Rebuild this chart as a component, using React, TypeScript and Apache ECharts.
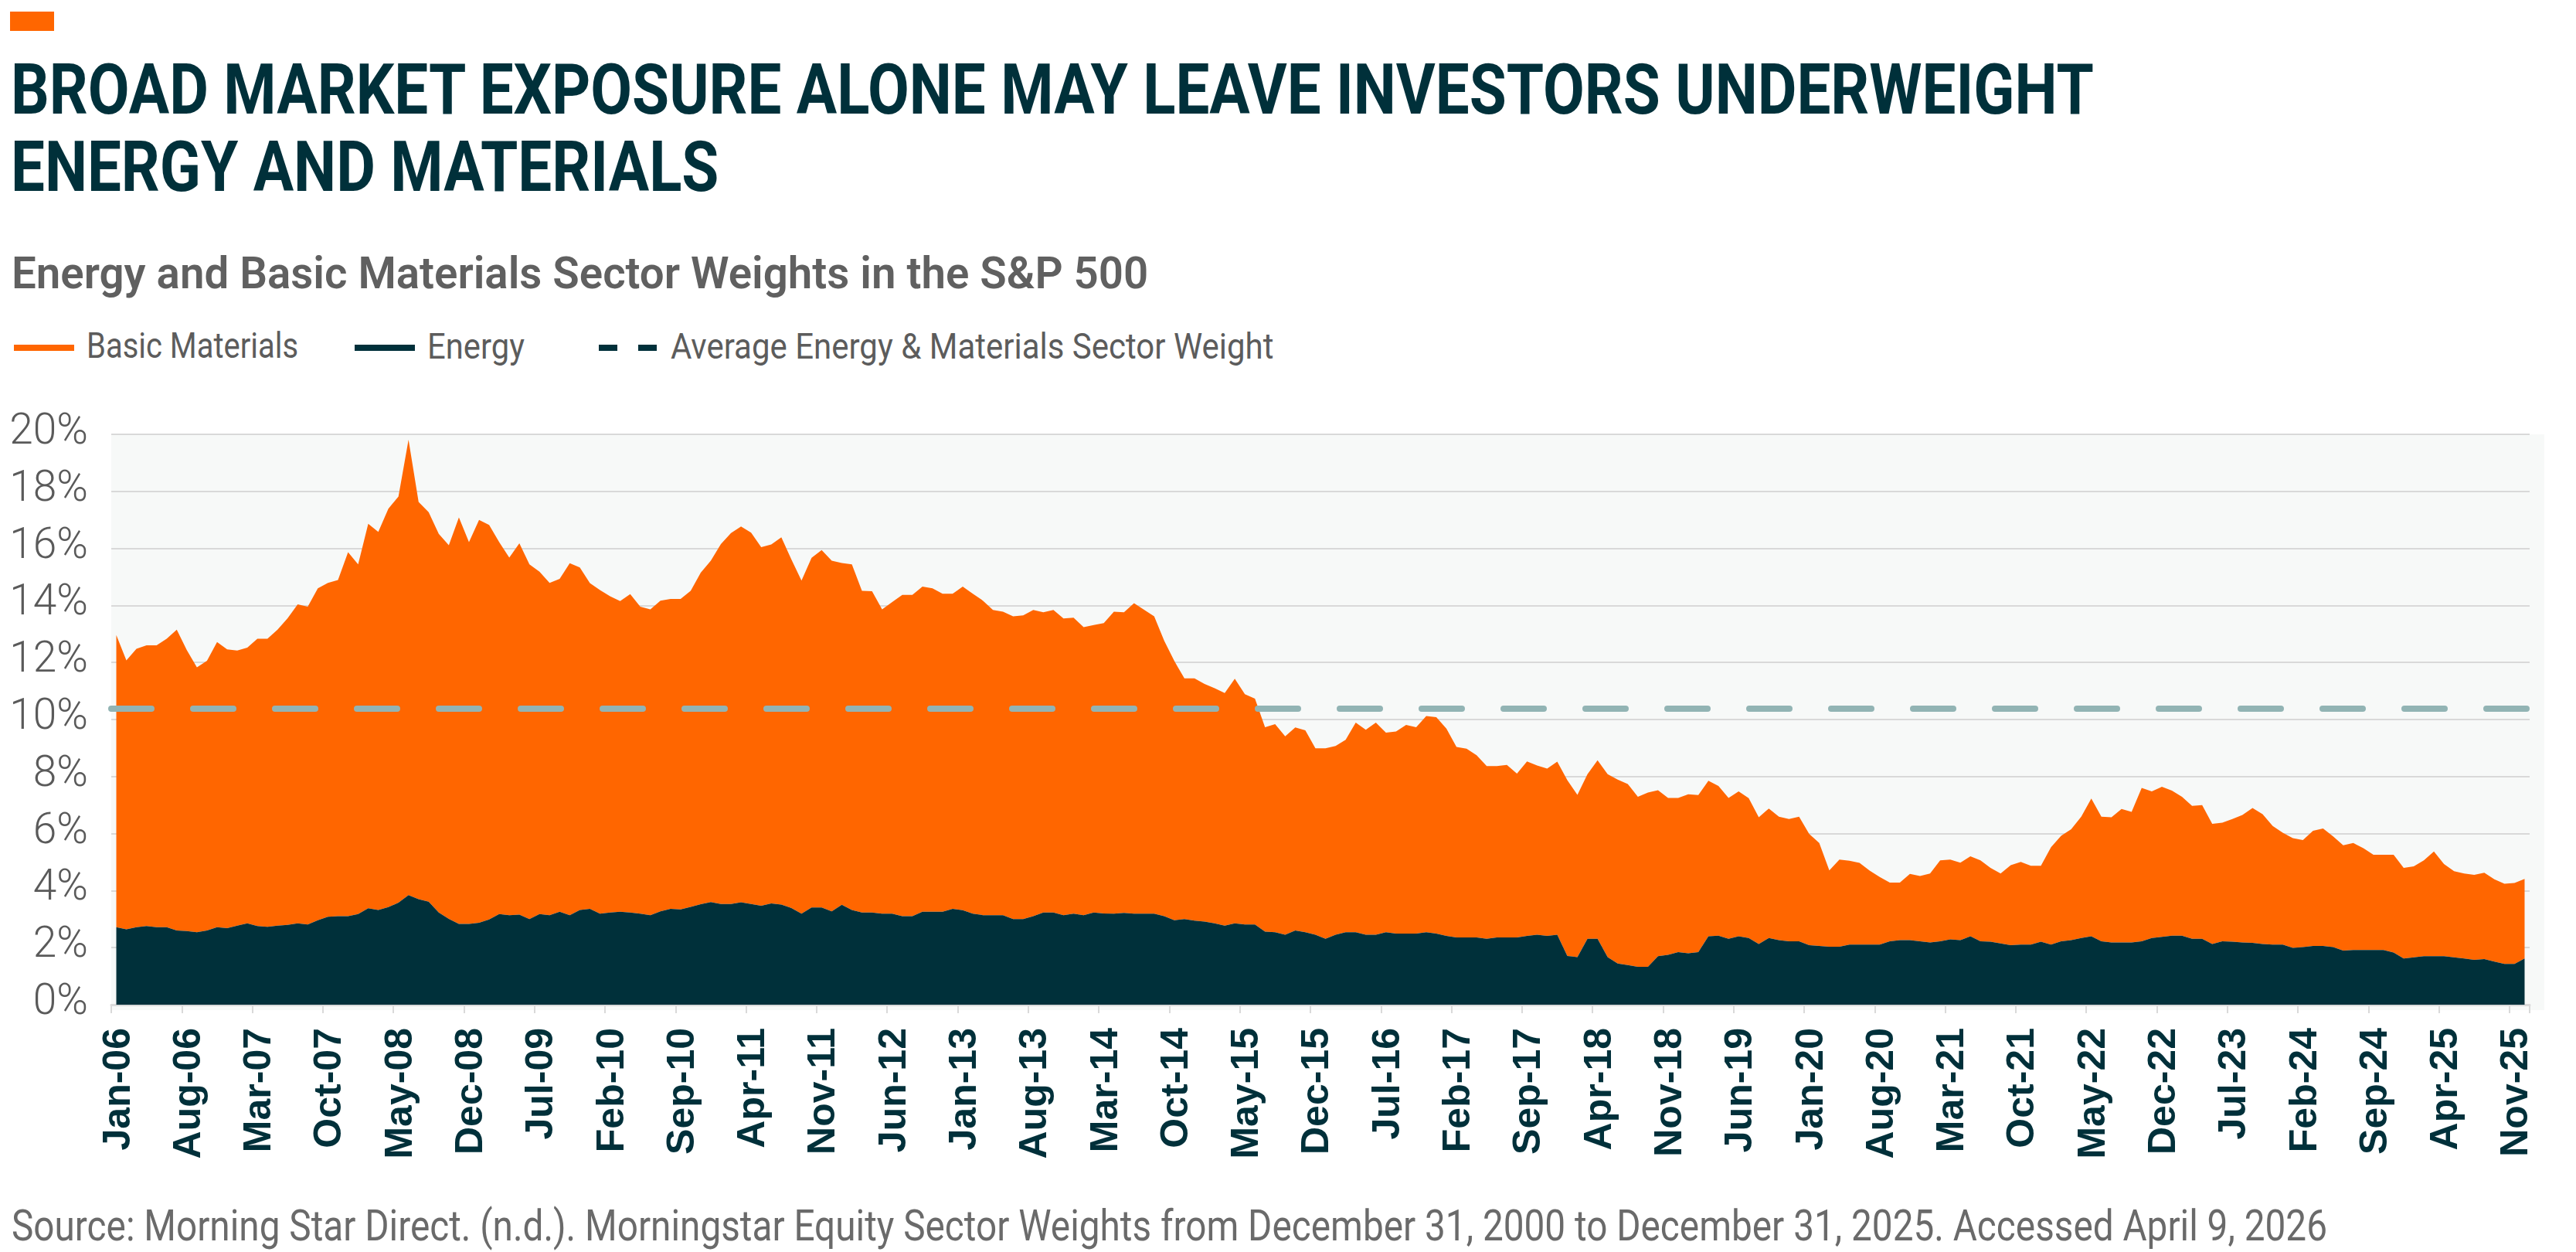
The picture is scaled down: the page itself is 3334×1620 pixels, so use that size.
import React, { useEffect, useRef } from "react";
import * as echarts from "echarts";

// Month axis: Jan-06 .. Dec-25
const MONTHS = ["Jan", "Feb", "Mar", "Apr", "May", "Jun", "Jul", "Aug", "Sep", "Oct", "Nov", "Dec"];
const YEARS = ["06", "07", "08", "09", "10", "11", "12", "13", "14", "15", "16", "17", "18", "19", "20", "21", "22", "23", "24", "25"];
const categories: string[] = [];
YEARS.forEach((y) => MONTHS.forEach((m) => categories.push(`${m}-${y}`)));

// Sector weights in the S&P 500 (%), one row per year
const energy = [
  2.72, 2.64, 2.72, 2.76, 2.72, 2.72, 2.60, 2.58, 2.54, 2.60, 2.72, 2.68,
  2.77, 2.85, 2.76, 2.73, 2.77, 2.80, 2.85, 2.81, 2.96, 3.08, 3.10, 3.10,
  3.18, 3.38, 3.32, 3.42, 3.58, 3.84, 3.70, 3.61, 3.23, 3.01, 2.83, 2.83,
  2.87, 2.99, 3.18, 3.14, 3.16, 3.00, 3.18, 3.14, 3.26, 3.14, 3.32, 3.36,
  3.19, 3.23, 3.26, 3.23, 3.19, 3.14, 3.27, 3.36, 3.34, 3.43, 3.52, 3.60,
  3.53, 3.53, 3.59, 3.53, 3.47, 3.55, 3.51, 3.39, 3.19, 3.41, 3.41, 3.27,
  3.50, 3.32, 3.23, 3.23, 3.19, 3.19, 3.10, 3.10, 3.26, 3.26, 3.26, 3.36,
  3.31, 3.19, 3.14, 3.14, 3.14, 3.00, 3.00, 3.10, 3.23, 3.23, 3.14, 3.19,
  3.14, 3.23, 3.20, 3.19, 3.22, 3.19, 3.19, 3.19, 3.10, 2.96, 3.00, 2.95,
  2.91, 2.85, 2.77, 2.85, 2.81, 2.81, 2.56, 2.54, 2.45, 2.60, 2.54, 2.45,
  2.31, 2.45, 2.54, 2.54, 2.45, 2.45, 2.54, 2.49, 2.49, 2.49, 2.54, 2.49,
  2.41, 2.36, 2.36, 2.36, 2.31, 2.36, 2.36, 2.36, 2.41, 2.45, 2.41, 2.45,
  1.71, 1.67, 2.31, 2.31, 1.67, 1.44, 1.39, 1.33, 1.33, 1.70, 1.75, 1.84,
  1.80, 1.84, 2.40, 2.42, 2.31, 2.40, 2.34, 2.13, 2.34, 2.26, 2.22, 2.22,
  2.09, 2.06, 2.03, 2.03, 2.11, 2.11, 2.11, 2.11, 2.22, 2.26, 2.26, 2.22,
  2.18, 2.22, 2.29, 2.26, 2.40, 2.22, 2.21, 2.15, 2.09, 2.11, 2.11, 2.21,
  2.11, 2.22, 2.26, 2.34, 2.40, 2.22, 2.18, 2.18, 2.18, 2.22, 2.34, 2.38,
  2.42, 2.42, 2.31, 2.31, 2.13, 2.22, 2.21, 2.18, 2.17, 2.13, 2.11, 2.11,
  1.99, 2.02, 2.06, 2.06, 2.02, 1.90, 1.92, 1.92, 1.92, 1.92, 1.83, 1.62,
  1.66, 1.70, 1.70, 1.70, 1.66, 1.62, 1.57, 1.60, 1.51, 1.43, 1.43, 1.62,
];

const basicMaterials = [
  10.24, 9.43, 9.76, 9.84, 9.88, 10.11, 10.55, 9.85, 9.29, 9.46, 10.00, 9.78,
  9.65, 9.67, 10.07, 10.10, 10.38, 10.75, 11.19, 11.15, 11.64, 11.71, 11.79, 12.77,
  12.26, 13.48, 13.26, 13.97, 14.24, 15.97, 13.93, 13.66, 13.28, 13.10, 14.26, 13.39,
  14.13, 13.83, 13.04, 12.54, 13.02, 12.44, 12.00, 11.65, 11.67, 12.34, 12.01, 11.42,
  11.35, 11.09, 10.89, 11.17, 10.77, 10.72, 10.90, 10.87, 10.89, 11.08, 11.63, 11.97,
  12.62, 13.01, 13.18, 13.02, 12.57, 12.59, 12.88, 12.22, 11.68, 12.26, 12.53, 12.30,
  11.99, 12.12, 11.28, 11.27, 10.67, 10.93, 11.27, 11.27, 11.40, 11.34, 11.15, 11.05,
  11.35, 11.22, 11.03, 10.70, 10.64, 10.62, 10.65, 10.74, 10.53, 10.61, 10.40, 10.38,
  10.10, 10.08, 10.18, 10.59, 10.54, 10.89, 10.66, 10.43, 9.66, 9.09, 8.44, 8.49,
  8.34, 8.25, 8.16, 8.58, 8.08, 7.92, 7.17, 7.30, 6.96, 7.12, 7.08, 6.54,
  6.68, 6.62, 6.75, 7.35, 7.19, 7.44, 7.00, 7.09, 7.32, 7.24, 7.58, 7.59,
  7.27, 6.68, 6.62, 6.39, 6.06, 6.01, 6.05, 5.74, 6.12, 5.94, 5.87, 6.07,
  6.16, 5.69, 5.77, 6.26, 6.41, 6.45, 6.35, 5.96, 6.11, 5.82, 5.50, 5.41,
  5.58, 5.51, 5.45, 5.25, 4.94, 5.08, 4.90, 4.44, 4.54, 4.33, 4.29, 4.37,
  3.90, 3.61, 2.68, 3.06, 2.94, 2.86, 2.59, 2.37, 2.06, 2.02, 2.33, 2.29,
  2.42, 2.84, 2.80, 2.72, 2.80, 2.84, 2.59, 2.45, 2.80, 2.90, 2.76, 2.66,
  3.41, 3.70, 3.89, 4.25, 4.83, 4.37, 4.39, 4.68, 4.58, 5.38, 5.14, 5.26,
  5.09, 4.87, 4.66, 4.69, 4.21, 4.16, 4.30, 4.47, 4.73, 4.55, 4.16, 3.92,
  3.85, 3.75, 4.04, 4.12, 3.88, 3.69, 3.75, 3.57, 3.34, 3.34, 3.43, 3.18,
  3.19, 3.36, 3.67, 3.23, 3.02, 2.98, 2.98, 3.03, 2.89, 2.81, 2.84, 2.79,
];

// Average combined Energy & Materials weight (%)
const averageWeight = 10.39;

const TITLE_LINES = [
  "BROAD MARKET EXPOSURE ALONE MAY LEAVE INVESTORS UNDERWEIGHT",
  "ENERGY AND MATERIALS",
];
const SUBTITLE = "Energy and Basic Materials Sector Weights in the S&P 500";
const LEGEND_ITEMS = ["Basic Materials", "Energy", "Average Energy & Materials Sector Weight"];
const SOURCE =
  "Source: Morning Star Direct. (n.d.). Morningstar Equity Sector Weights from December 31, 2000 to December 31, 2025. Accessed April 9, 2026";

const ORANGE = "#ff6600";
const TEAL = "#00303a";
const DASH = "#92b4b4";
const GREY_TEXT = "#5c5c5c";

function textWidth(text: string, font: string): number {
  const ctx = document.createElement("canvas").getContext("2d");
  if (!ctx) return text.length * 20;
  ctx.font = font;
  return ctx.measureText(text).width;
}

export default function App() {
  const ref = useRef<HTMLDivElement>(null);

  useEffect(() => {
    if (!ref.current) return;
    const chart = echarts.init(ref.current, undefined, { renderer: "svg" });

    // condensed look: natural Roboto widths squeezed to the target line lengths
    const titleFont = "700 90px Roboto";
    const titleScale = 2697 / textWidth(TITLE_LINES[0], titleFont);
    const subFont = "600 57px Roboto";
    const subScale = 1472 / textWidth(SUBTITLE, subFont);
    const legendFont = "400 46px Roboto";
    const legendScales = [274, 126, 781].map((w, i) => w / textWidth(LEGEND_ITEMS[i], legendFont));
    const sourceFont = "400 55px Roboto";
    const sourceScale = 2998 / textWidth(SOURCE, sourceFont);

    const txt = (text: string, x: number, y: number, font: string, fill: string, scale: number) => ({
      type: "text",
      x,
      y,
      scaleX: scale,
      silent: true,
      style: { text, font, fill, align: "left", verticalAlign: "middle" },
    });

    const graphic: any[] = [
      { type: "rect", silent: true, z: -10, shape: { x: 144, y: 562, width: 3149, height: 745 }, style: { fill: "#f7f9f8" } },
      { type: "rect", silent: true, shape: { x: 13, y: 15, width: 57, height: 25 }, style: { fill: ORANGE } },
      txt(TITLE_LINES[0], 14, 117, titleFont, TEAL, titleScale),
      txt(TITLE_LINES[1], 14, 217, titleFont, TEAL, titleScale),
      txt(SUBTITLE, 15, 353, subFont, "#606060", subScale),
      { type: "rect", silent: true, shape: { x: 18, y: 446, width: 78, height: 8 }, style: { fill: ORANGE } },
      txt(LEGEND_ITEMS[0], 112, 448, legendFont, GREY_TEXT, legendScales[0]),
      { type: "rect", silent: true, shape: { x: 459, y: 446, width: 78, height: 8 }, style: { fill: TEAL } },
      txt(LEGEND_ITEMS[1], 553, 448, legendFont, GREY_TEXT, legendScales[1]),
      { type: "rect", silent: true, shape: { x: 775, y: 446, width: 24, height: 8 }, style: { fill: TEAL } },
      { type: "rect", silent: true, shape: { x: 826, y: 446, width: 24, height: 8 }, style: { fill: TEAL } },
      txt(LEGEND_ITEMS[2], 868, 448, legendFont, GREY_TEXT, legendScales[2]),
      txt(SOURCE, 15, 1586, sourceFont, "#6a6a6a", sourceScale),
    ];

    chart.setOption({
      animation: false,
      backgroundColor: "#ffffff",
      graphic,
      grid: { left: 144, right: 60, top: 562, bottom: 320, containLabel: false, outerBoundsMode: "none" },
      xAxis: {
        type: "category",
        data: categories,
        boundaryGap: true,
        axisLine: { show: true, lineStyle: { color: "#d9d9d9", width: 3 } },
        axisTick: { show: true, interval: 6, length: 11, lineStyle: { color: "#d9d9d9", width: 2 } },
        axisLabel: {
          interval: 6,
          rotate: 90,
          margin: 30,
          color: TEAL,
          fontFamily: "'Liberation Sans', Arial, sans-serif",
          fontWeight: "bold",
          fontSize: 50,
        },
        splitLine: { show: false },
      },
      yAxis: {
        type: "value",
        min: 0,
        max: 20,
        interval: 2,
        axisLine: { show: false },
        axisTick: { show: false },
        axisLabel: {
          formatter: "{value}%",
          margin: 30,
          color: "#5a5a5a",
          fontFamily: "Roboto",
          fontWeight: 300,
          fontSize: 55,
          verticalAlign: "bottom",
          lineHeight: 14,
        },
        splitLine: { show: true, lineStyle: { color: "#d9d9d9", width: 2 } },
      },
      series: [
        {
          name: "Energy",
          type: "line",
          stack: "weights",
          data: energy,
          showSymbol: false,
          symbol: "none",
          lineStyle: { width: 0, color: TEAL },
          itemStyle: { color: TEAL },
          areaStyle: { color: TEAL, opacity: 1 },
          z: 3,
        },
        {
          name: "Basic Materials",
          type: "line",
          stack: "weights",
          data: basicMaterials,
          showSymbol: false,
          symbol: "none",
          lineStyle: { width: 0, color: ORANGE },
          itemStyle: { color: ORANGE },
          areaStyle: { color: ORANGE, opacity: 1 },
          z: 2,
          markLine: {
            silent: true,
            symbol: "none",
            label: { show: false },
            lineStyle: { color: DASH, width: 8, type: [52, 54], cap: "round" },
            data: [{ yAxis: averageWeight }],
            z: 5,
          },
        },
      ],
    });

    return () => chart.dispose();
  }, []);

  return (
    <div
      ref={ref}
      style={{ position: "fixed", left: 0, top: 0, width: 3334, height: 1620, background: "#ffffff" }}
    />
  );
}
